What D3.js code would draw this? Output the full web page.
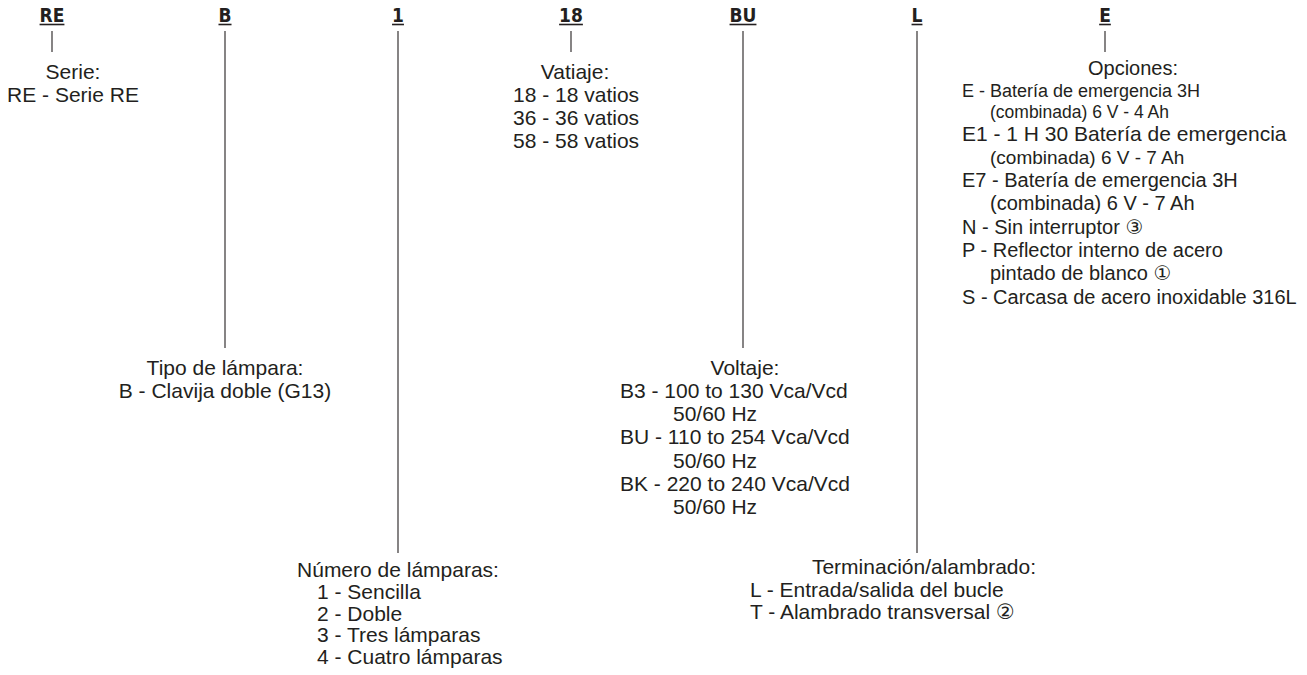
<!DOCTYPE html>
<html>
<head>
<meta charset="utf-8">
<script src="https://cdn.jsdelivr.net/npm/d3@7"></script>
<style>
  html, body { margin: 0; padding: 0; background: #fff; }
  svg { display: block; }
  .code { font-family: "Liberation Sans Narrow", "DejaVu Sans Condensed", "Roboto Condensed", sans-serif; font-weight: bold; font-size: 19px; fill: #231f20; }
  .lbl { font-family: "Liberation Sans", Arial, Helvetica, "DejaVu Sans", sans-serif; font-size: 21px; fill: #231f20; }
</style>
</head>
<body>
<svg id="chart" width="1307" height="675"></svg>
<script>
// ---------- data ----------
const codes = ["RE", "B", "1", "18", "BU", "L", "E"];
const codeTier = [0, 1, 2, 0, 1, 2, 0];           // which row the description hangs at

const serieTitle = "Serie:";
const serieItems = ["RE - Serie RE"];

const tipoTitle = "Tipo de lámpara:";
const tipoItems = ["B - Clavija doble (G13)"];

const numeroTitle = "Número de lámparas:";
const numeroItems = ["1 - Sencilla", "2 - Doble", "3 - Tres lámparas", "4 - Cuatro lámparas"];

const vatiajeTitle = "Vatiaje:";
const vatiajeItems = ["18 - 18 vatios", "36 - 36 vatios", "58 - 58 vatios"];

const voltajeTitle = "Voltaje:";
const voltajeItems = ["B3 - 100 to 130 Vca/Vcd", "50/60 Hz", "BU - 110 to 254 Vca/Vcd", "50/60 Hz", "BK - 220 to 240 Vca/Vcd", "50/60 Hz"];
const voltajeCont  = [false, true, false, true, false, true];

const terminTitle = "Terminación/alambrado:";
const terminItems = ["L - Entrada/salida del bucle", "T - Alambrado transversal \u2461"];

const opcionesTitle = "Opciones:";
const opcionesItems = [
  "E - Batería de emergencia 3H", "(combinada) 6 V - 4 Ah",
  "E1 - 1 H 30 Batería de emergencia", "(combinada) 6 V - 7 Ah",
  "E7 - Batería de emergencia 3H", "(combinada) 6 V - 7 Ah",
  "N - Sin interruptor \u2462",
  "P - Reflector interno de acero", "pintado de blanco \u2460",
  "S - Carcasa de acero inoxidable 316L"];
const opcionesCont = [false, true, false, true, false, true, false, false, true, false];

// ---------- layout ----------
const svg = d3.select("#chart");
const ink = "#231f20";

const codeX = d3.scaleOrdinal().domain(codes).range([52, 225, 398, 571, 743, 917, 1105]);
const tierEnd = d3.scaleOrdinal().domain([0, 1, 2]).range([52, 348, 553]);
const codeBase = 22, lineTop = 31;

// codes with underline and leader line
const cg = svg.append("g");
codes.forEach((c, i) => {
  const t = cg.append("text").attr("class", "code")
    .attr("x", codeX(c)).attr("y", codeBase).attr("text-anchor", "middle").text(c);
  const w = t.node().getComputedTextLength();
  cg.append("line")
    .attr("x1", codeX(c) - w / 2).attr("x2", codeX(c) + w / 2)
    .attr("y1", codeBase + 2.5).attr("y2", codeBase + 2.5)
    .attr("stroke", ink).attr("stroke-width", 1.6);
  cg.append("line")
    .attr("x1", codeX(c)).attr("x2", codeX(c))
    .attr("y1", lineTop).attr("y2", tierEnd(codeTier[i]))
    .attr("stroke", ink).attr("stroke-width", 1.1);
});

// description blocks
function block(cfg) {
  const g = svg.append("g");
  const tSize = cfg.titleSize || 21;
  g.append("text").attr("class", "lbl")
    .attr("x", cfg.titleX).attr("y", cfg.y0).attr("text-anchor", "middle")
    .style("font-size", tSize + "px").text(cfg.title);
  // baselines: fixed step, or cumulative from font sizes when sizes vary
  let ys;
  if (cfg.sizes) {
    const all = [tSize].concat(cfg.sizes);
    const gaps = cfg.sizes.map((s, i) => (all[i] + s) / 2 * cfg.lead);
    const cum = d3.cumsum(gaps);
    ys = i => cfg.y0 + cum[i];
  } else {
    const sc = d3.scaleLinear().domain([0, 1]).range([cfg.y0 + cfg.dy, cfg.y0 + 2 * cfg.dy]);
    ys = i => sc(i);
  }
  g.selectAll("text.item").data(cfg.items).join("text")
    .attr("class", "lbl item")
    .attr("x", (d, i) => cfg.center ? cfg.titleX : (cfg.cont && cfg.cont[i] ? cfg.contX : cfg.itemX))
    .attr("y", (d, i) => ys(i))
    .attr("text-anchor", cfg.center ? "middle" : "start")
    .style("font-size", (d, i) => cfg.sizes ? cfg.sizes[i] + "px" : null)
    .text(d => d);
}

block({ title: serieTitle, items: serieItems, titleX: 73, y0: 78.5, dy: 23.5, center: true });
block({ title: vatiajeTitle, items: vatiajeItems, titleX: 575, itemX: 513, y0: 78.5, dy: 23.3 });
block({ title: opcionesTitle, items: opcionesItems, titleX: 1133, itemX: 962, contX: 990, cont: opcionesCont,
        y0: 75, lead: 1.17, titleSize: 20, sizes: [18, 17.5, 21, 19, 20, 20, 20, 20, 20, 20] });
block({ title: tipoTitle, items: tipoItems, titleX: 225, y0: 374.5, dy: 23.5, center: true });
block({ title: voltajeTitle, items: voltajeItems, titleX: 745, itemX: 620, contX: 673, cont: voltajeCont, y0: 374.5, dy: 23.3 });
block({ title: numeroTitle, items: numeroItems, titleX: 398, itemX: 317, y0: 577, dy: 21.8 });
block({ title: terminTitle, items: terminItems, titleX: 924, itemX: 750, y0: 574, dy: 22.5 });
</script>
</body>
</html>
